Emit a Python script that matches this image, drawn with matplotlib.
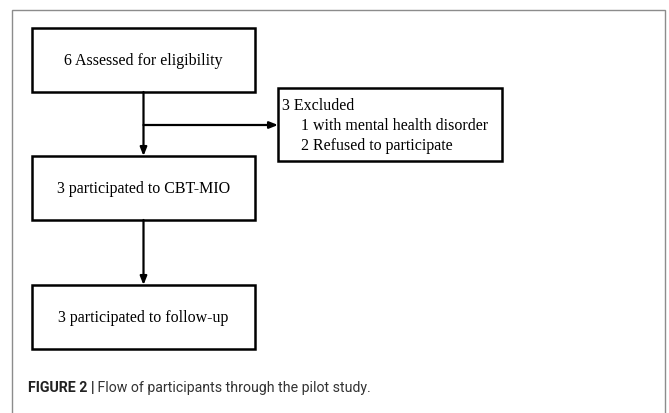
import matplotlib
matplotlib.use("Agg")
import matplotlib.pyplot as plt
from matplotlib.patches import Rectangle

# flow chart content
main_steps = ["6 Assessed for eligibility",
              "3 participated to CBT-MIO",
              "3 participated to follow-up"]
excluded_lines = ["3 Excluded",
                  "1 with mental health disorder",
                  "2 Refused to participate"]
excluded_indent = [0, 1, 1]
caption_bold = "FIGURE 2 |"
caption_text = " Flow of participants through the pilot study."

# layout in pixel units (y down)
W, H = 669, 413
box_x, box_w, box_h = 32, 223, 64
step_tops = [28, 156, 285]
excl_box = (278, 88, 224, 73)
branch_y = 125
serif = "Liberation Serif"

fig = plt.figure(figsize=(W / 100, H / 100), dpi=100)
ax = fig.add_axes([0, 0, 1, 1])
ax.set_xlim(0, W)
ax.set_ylim(H, 0)
ax.axis("off")

# outer frame (open at the bottom)
ax.plot([12, 12, 665, 665], [H + 5, 10, 10, H + 5], color="#8c8c8c", lw=1.0,
        solid_joinstyle="miter")

for top, label in zip(step_tops, main_steps):
    ax.add_patch(Rectangle((box_x, top), box_w, box_h, fill=False,
                           edgecolor="black", lw=1.8))
    ax.text(box_x + box_w / 2, top + box_h / 2 + 1, label, ha="center",
            va="center", fontsize=11.5, family=serif)

cx = box_x + box_w / 2
arrow = dict(arrowstyle="-|>,head_length=0.5,head_width=0.2", color="black",
             lw=1.6, shrinkA=0, shrinkB=0)
for i in range(len(step_tops) - 1):
    ax.annotate("", xy=(cx, step_tops[i + 1]), xytext=(cx, step_tops[i] + box_h),
                arrowprops=arrow)

# branch to excluded box
ex, ey, ew, eh = excl_box
ax.annotate("", xy=(ex, branch_y), xytext=(cx, branch_y), arrowprops=arrow)
ax.add_patch(Rectangle((ex, ey), ew, eh, fill=False, edgecolor="black", lw=1.8))
for j, (line, ind) in enumerate(zip(excluded_lines, excluded_indent)):
    ax.text(ex + 4 + ind * 19, ey + 18 + j * 20, line, ha="left", va="center",
            fontsize=11.5, family=serif)

t = ax.text(28, 388, caption_bold, ha="left", va="center", fontsize=10.2,
            family="Roboto", weight="bold", color="#222222")
ax.annotate(caption_text, xy=(1, 0.5), xycoords=t, ha="left", va="center",
            fontsize=10.2, family="Roboto", color="#333333")

fig.savefig("out.png", dpi=100)
